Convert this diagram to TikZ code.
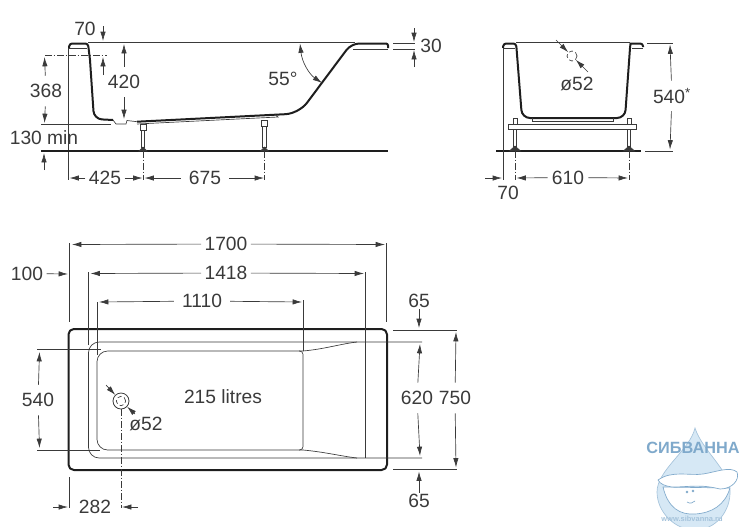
\documentclass[tikz,border=0pt]{standalone}
\usepackage{xcolor}
\usepackage{fontspec}
\setmainfont{Liberation Sans}
\usetikzlibrary{arrows.meta}
\definecolor{ink}{HTML}{3A3A3A}
\definecolor{wallc}{HTML}{1E1E1E}
\definecolor{logoc}{HTML}{7FA9CB}
\definecolor{dropc}{HTML}{D6E8F5}
\tikzset{dim/.style={text=ink,font=\fontsize{14.4}{15}\selectfont,inner xsep=2.5pt,inner ysep=1pt},
  dimv/.style={dim,minimum height=22.5pt},
  arr/.style={->,draw=ink,line width=0.5pt},
  thin line/.style={draw=ink,line width=0.5pt},
  wall/.style={draw=wallc,line width=1.5pt,line join=round},
  axis/.style={draw=ink,line width=0.45pt,dash pattern=on 5pt off 1.5pt on 1pt off 1.5pt}}

\begin{document}
\begin{tikzpicture}[x=0.75pt,y=-0.75pt,>={Latex[length=7pt,width=4pt]}]
    \useasboundingbox (0,0) rectangle (743,526);

    % side view
    \draw[wall] (69,48) [rounded corners=2pt] -- (69.5,43.5) -- (88,43.5) [rounded corners=0pt] -- (90,60) [rounded corners=6pt] -- (94,119) [rounded corners=0pt] -- (113,120);
    \draw[wall] (137,121.7) [rounded corners=10pt] -- (299,113.5) [rounded corners=6pt] -- (351.3,43.5) [rounded corners=1.5pt] -- (388,43.5) [rounded corners=0pt] -- (388,48);
    \draw[thin line] (88,42.7) -- (355,42.7);
    \draw[thin line] (69,48) -- (87,48);
    \draw[thin line] (353,49) -- (388,49);
    \draw[thin line] (68.5,48) -- (68.5,180);
    \draw[thin line] (113,120) -- (116,124) -- (126,124) -- (127,120.5) -- (137,121.7);
    \draw[thin line] (137,124) -- (278,117) -- (275,114.5);
    \draw[thin line] (41,124.5) -- (111,124.5);
    \draw[axis] (45,55.7) -- (107,55.7);
    \draw[wall] (41,151) -- (388,151);
    \foreach \x/\y in {143/124,264.5/120}{
      \draw[thin line] (\x-3,\y) rectangle (\x+3,\y+6);
      \draw[thin line,fill=white] (\x-1.7,\y+6) rectangle (\x+1.7,147);
      \draw[thin line,fill=ink] (\x-4,151) -- (\x,147) -- (\x+4,151) -- cycle;
      \draw[axis] (\x,151) -- (\x,180);
    }

    \node[dim] (s70) at (85,29) {70};
    \coordinate (s70a) at (103,41);
    \coordinate (s70b) at (103,26);
    \draw[arr] (s70b) -- (s70a);
    \coordinate (s70c) at (103,75);
    \coordinate (s70d) at (103,57);
    \draw[arr] (s70c) -- (s70d);
    \node[dimv] (s368) at (46,91) {368};
    \coordinate (s368a) at (44.5,57);
    \coordinate (s368b) at (44.5,123);
    \draw[arr] (s368) -- (s368a);
    \draw[arr] (s368) -- (s368b);
    \node[dimv] (s420) at (124,82) {420};
    \coordinate (s420a) at (124,44);
    \coordinate (s420b) at (124,119);
    \draw[arr] (s420) -- (s420a);
    \draw[arr] (s420) -- (s420b);
    \node[dim] (s130) at (44,138) {130 min};
    \coordinate (s130a) at (44,170);
    \coordinate (s130b) at (44,153);
    \draw[arr] (s130a) -- (s130b);
    \node[dim] (s425) at (105,178) {425};
    \coordinate (s425a) at (69.5,178);
    \coordinate (s425b) at (142.5,178);
    \draw[arr] (s425) -- (s425a);
    \draw[arr] (s425) -- (s425b);
    \node[dim,inner xsep=6pt] (s675) at (205,178) {675};
    \coordinate (s675a) at (144.5,178);
    \coordinate (s675b) at (264,178);
    \draw[arr] (s675) -- (s675a);
    \draw[arr] (s675) -- (s675b);
    \node[dim] (s55) at (283,79) {55°};
    \coordinate (s55a) at (300,43.5);
    \coordinate (s55b) at (322,83);
    \draw[arr,<->] (s55a) .. controls (302,62) and (309,74) .. (s55b);
    \node[dim] (s30) at (431,46) {30};
    \draw[thin line] (393,43) -- (415,43);
    \draw[thin line] (393,49) -- (415,49);
    \coordinate (s30a) at (414,28);
    \coordinate (s30b) at (414,42);
    \coordinate (s30c) at (414,67);
    \coordinate (s30d) at (414,50);
    \draw[arr] (s30a) -- (s30b);
    \draw[arr] (s30c) -- (s30d);

    % end view
    \draw[wall] (503,48) [rounded corners=2pt] -- (503.5,43.5) -- (516,43.5) [rounded corners=0pt] -- (516.5,48) [rounded corners=6pt] -- (522,118) -- (625,118) [rounded corners=0pt] -- (630,48) -- (630.5,43.5) [rounded corners=2pt] -- (643,43.5) [rounded corners=0pt] -- (643,47);
    \draw[thin line] (516,42.7) -- (630,42.7);
    \draw[thin line] (503,48) -- (515,48);
    \draw[thin line] (632,48) -- (643,48);
    \draw[thin line] (532,118) -- (532,121) -- (613,121) -- (613,118);
    \draw[thin line] (508,124) rectangle (636,129);
    \draw[wall] (496,151) -- (641,151);
    \draw[thin line] (503,48) -- (503,180);
    \foreach \x in {515,629}{
      \draw[thin line] (\x-2,118) rectangle (\x+2,124);
      \draw[thin line,fill=white] (\x-1.7,129) rectangle (\x+1.7,146);
      \draw[thin line,fill=ink] (\x-5.5,151) -- (\x,146) -- (\x+5.5,151) -- cycle;
      \draw[axis] (\x,151) -- (\x,180);
    }
    \node[dim] (e52) at (577,84) {ø52};
    \node[circle,draw=ink,densely dashed,line width=0.5pt,minimum size=7.5pt,inner sep=0pt] (ehole) at (572,56) {};
    \coordinate (e52a) at (556,40);
    \coordinate (e52b) at (588,72);
    \draw[arr] (e52a) -- (ehole);
    \draw[arr] (e52b) -- (ehole);
    \node[dimv] (e540) at (672,96) {540\textsuperscript{*}};
    \coordinate (e540a) at (670,44.5);
    \coordinate (e540b) at (670,149.5);
    \draw[arr] (e540) -- (e540a);
    \draw[arr] (e540) -- (e540b);
    \draw[thin line] (647,43) -- (673,43);
    \draw[thin line] (645,151) -- (673,151);
    \node[dim,inner xsep=3pt] (e610) at (568,177.5) {610};
    \coordinate (e610a) at (516.5,178);
    \coordinate (e610b) at (628,178);
    \draw[arr] (e610) -- (e610a);
    \draw[arr] (e610) -- (e610b);
    \node[dim] (e70) at (508,193) {70};
    \coordinate (e70a) at (485,178);
    \coordinate (e70b) at (502,178);
    \draw[arr] (e70a) -- (e70b);

    % plan view
    \draw[wall] (68.5,329) [rounded corners=4pt] rectangle (387,470);
    \draw[thin line,rounded corners=8pt] (422,342) -- (88.5,342) -- (88.5,458) -- (422,458);
    \draw[thin line,rounded corners=8pt] (303,351) -- (97,351) -- (97,450) -- (303,450);
    \draw[thin line,rounded corners=2.5pt] (299,351) -- (303,351) -- (303,450) -- (299,450);
    \draw[thin line] (303,351) .. controls (325,349) and (340,344) .. (357,342);
    \draw[thin line] (303,450) .. controls (325,452) and (340,456) .. (357,458);
    \draw[thin line] (365,272) -- (365,458);
    \draw[thin line] (303,300) -- (303,351);
    \draw[thin line] (88.5,272) -- (88.5,345);
    \draw[thin line] (97,302) -- (97,355);
    \draw[thin line] (69.5,243) -- (69.5,322);
    \draw[thin line] (386,243) -- (386,322);
    \draw[thin line] (37,349.5) -- (101,349.5);
    \draw[thin line] (37,450) -- (100,450);
    \draw[thin line] (393,330) -- (457,330);
    \draw[thin line] (393,469) -- (457,469);
    \draw[thin line] (69.5,477) -- (69.5,508);
    \draw[axis] (121,409) -- (121,508);

    \node[dim] (p1700) at (226,244) {1700};
    \coordinate (p1700a) at (72,244.5);
    \coordinate (p1700b) at (385,244.5);
    \draw[arr] (p1700) -- (p1700a);
    \draw[arr] (p1700) -- (p1700b);
    \node[dim] (p1418) at (226,273) {1418};
    \coordinate (p1418a) at (90.5,273.5);
    \coordinate (p1418b) at (364,273.5);
    \draw[arr] (p1418) -- (p1418a);
    \draw[arr] (p1418) -- (p1418b);
    \node[dim,inner xsep=6pt] (p1110) at (202,301) {1110};
    \coordinate (p1110a) at (99,302);
    \coordinate (p1110b) at (302,302);
    \draw[arr] (p1110) -- (p1110a);
    \draw[arr] (p1110) -- (p1110b);
    \node[dim] (p100) at (27,273.5) {100};
    \coordinate (p100a) at (68,274);
    \draw[arr] (p100) -- (p100a);
    \node[dimv] (p540) at (38,400) {540};
    \coordinate (p540a) at (39.5,352);
    \coordinate (p540b) at (39.5,448);
    \draw[arr] (p540) -- (p540a);
    \draw[arr] (p540) -- (p540b);
    \node[circle,draw=ink,line width=0.6pt,minimum size=12pt,inner sep=0pt] (phole) at (121,401) {};
    \node[circle,draw=ink,densely dashed,line width=0.5pt,minimum size=7pt,inner sep=0pt] (pholein) at (121,401) {};
    \coordinate (p52a) at (106,385);
    \coordinate (p52b) at (135,414);
    \draw[arr] (p52a) -- (phole);
    \draw[arr] (p52b) -- (phole);
    \node[dim] (p52) at (146,424) {ø52};
    \node[dim] (plitres) at (223,397) {215 litres};
    \node[dim] (p282) at (95,507) {282};
    \coordinate (p282a) at (53,507);
    \coordinate (p282b) at (68,507);
    \coordinate (p282c) at (138,507);
    \coordinate (p282d) at (122,507);
    \draw[arr] (p282a) -- (p282b);
    \draw[arr] (p282c) -- (p282d);
    \node[dim] (p65a) at (419,301) {65};
    \coordinate (p65at) at (419,328);
    \draw[arr] (p65a) -- (p65at);
    \node[dim] (p65b) at (419,501) {65};
    \coordinate (p65bt) at (419,471.5);
    \draw[arr] (p65b) -- (p65bt);
    \node[dimv] (p620) at (417,398) {620};
    \coordinate (p620a) at (420,344);
    \coordinate (p620b) at (420,456);
    \draw[arr] (p620) -- (p620a);
    \draw[arr] (p620) -- (p620b);
    \node[dimv] (p750) at (455,398) {750};
    \coordinate (p750a) at (456,332);
    \coordinate (p750b) at (456,467.5);
    \draw[arr] (p750) -- (p750a);
    \draw[arr] (p750) -- (p750b);

    % logo
    \draw[draw=logoc!70,fill=dropc,line width=0.5pt] (695,428) .. controls (690,450) and (657,470) .. (657,492) .. controls (657,512) and (675,530) .. (695,530) .. controls (715,530) and (731,512) .. (730,490) .. controls (729,470) and (702,450) .. (695,428) -- cycle;
    \draw[draw=logoc,fill=white,line width=0.5pt] (663,487) .. controls (668,508) and (680,515) .. (695,514) .. controls (712,513) and (725,505) .. (730,488) -- cycle;
    \draw[draw=logoc,fill=white,line width=0.5pt] (658,480) .. controls (672,470) and (690,476) .. (703,474) .. controls (716,472) and (730,466) .. (737,472) .. controls (740,480) and (732,489) .. (720,489) .. controls (700,484) and (690,487) .. (672,487) .. controls (665,486) and (660,484) .. (658,480) -- cycle;
    \fill[logoc] (687,492) circle (1pt) (693,491) circle (1pt);
    \draw[logoc,line width=0.5pt] (687,502) .. controls (690,504) and (693,503) .. (695,501);
    \node[text=logoc,font=\fontsize{12.2}{13}\bfseries\selectfont,inner sep=0pt] (logoname) at (693,448) {СИБВАННА};
    \node[text=logoc!70,font=\fontsize{5.6}{6}\bfseries\selectfont,inner sep=0pt] (logoweb) at (692,519) {www.sibvanna.ru};
\end{tikzpicture}
\end{document}
